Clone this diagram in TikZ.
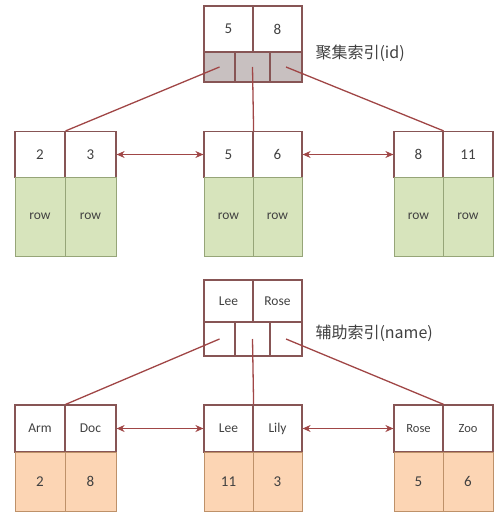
\documentclass[tikz,border=0pt]{standalone}
\usepackage{fontspec}
\setmainfont{Carlito}
\newfontfamily\cjk{Noto Sans CJK SC}
\usetikzlibrary{arrows.meta}
\definecolor{frame}{RGB}{135,85,85}
\definecolor{link}{RGB}{160,70,70}
\definecolor{txt}{RGB}{65,65,65}
\definecolor{ptrfill}{RGB}{200,192,192}
\definecolor{greenfill}{RGB}{215,228,188}
\definecolor{greenline}{RGB}{150,165,120}
\definecolor{orangefill}{RGB}{252,213,180}
\definecolor{orangeline}{RGB}{190,145,105}
\tikzset{
  keycell/.style={draw=frame, line width=1.2pt, fill=white, inner sep=0pt, minimum width=49pt, minimum height=46pt, text=txt, font=\fontsize{15}{15}\selectfont},
  ptrcell/.style={draw=frame, line width=1.2pt, inner sep=0pt, minimum height=30pt, text=txt},
  rowcell/.style={draw=greenline, line width=1pt, fill=greenfill, inner sep=0pt, minimum width=50pt, minimum height=79pt, text=txt, font=\fontsize{13.5}{13.5}\selectfont},
  valcell/.style={draw=orangeline, line width=1pt, fill=orangefill, inner sep=0pt, minimum width=50pt, minimum height=59pt, text=txt, font=\fontsize{15}{15}\selectfont},
  treeline/.style={draw=link, line width=1.3pt},
  sibling/.style={draw=link, line width=1.4pt, {Stealth[length=8pt,width=7pt]}-{Stealth[length=8pt,width=7pt]}},
  lbl/.style={anchor=west, text=txt, font=\cjk\fontsize{16}{16}\selectfont}
}
\begin{document}
\begin{tikzpicture}[x=1pt,y=-1pt]
\useasboundingbox (0,0) rectangle (494,513);
% ===== clustered index =====
\node[keycell, minimum width=49pt] (r1a) at (228.5,29) {5};
\node[keycell, minimum width=49pt] (r1b) at (277.5,29) {8};
\node[ptrcell, fill=ptrfill, minimum width=31pt] (p1a) at (219.5,67) {};
\node[ptrcell, fill=ptrfill, minimum width=35pt] (p1b) at (252.5,67) {};
\node[ptrcell, fill=ptrfill, minimum width=32pt] (p1c) at (286,67) {};
\node[lbl] (l1) at (312,53) {聚集索引(id)};
% leaves
\node[keycell, minimum width=50pt] (a1) at (40,154.5) {2};
\node[keycell, minimum width=51pt] (a2) at (90.5,154.5) {3};
\node[rowcell] (a1r) at (40,216.5) {row};
\node[rowcell, minimum width=51pt] (a2r) at (90.5,216.5) {row};
\node[keycell] (b1) at (228.5,154.5) {5};
\node[keycell] (b2) at (277.5,154.5) {6};
\node[rowcell, minimum width=49pt] (b1r) at (228.5,216.5) {row};
\node[rowcell, minimum width=49pt] (b2r) at (277.5,216.5) {row};
\node[keycell] (c1) at (418.5,154.5) {8};
\node[keycell, minimum width=50pt] (c2) at (468,154.5) {11};
\node[rowcell, minimum width=49pt] (c1r) at (418.5,216.5) {row};
\node[rowcell] (c2r) at (468,216.5) {row};
\draw[treeline] (p1a.center) -- (a1.north east);
\draw[treeline] (p1b.center) -- (b1.north east);
\draw[treeline] (p1c.center) -- (c1.north east);
\draw[sibling] (a2.east) -- (b1.west);
\draw[sibling] (b2.east) -- (c1.west);
% ===== secondary index =====
\node[keycell, minimum height=42pt, font=\fontsize{13.5}{13.5}\selectfont] (s1a) at (228.5,301) {Lee};
\node[keycell, minimum height=42pt, font=\fontsize{13.5}{13.5}\selectfont] (s1b) at (277.5,301) {Rose};
\node[ptrcell, fill=white, minimum width=31pt, minimum height=34pt] (q1a) at (219.5,339) {};
\node[ptrcell, fill=white, minimum width=35pt, minimum height=34pt] (q1b) at (252.5,339) {};
\node[ptrcell, fill=white, minimum width=32pt, minimum height=34pt] (q1c) at (286,339) {};
\node[lbl] (l2) at (312,333) {辅助索引(name)};
% leaves
\node[keycell, minimum width=50pt, minimum height=47pt, font=\fontsize{13.5}{13.5}\selectfont] (d1) at (40,428.5) {Arm};
\node[keycell, minimum width=51pt, minimum height=47pt, font=\fontsize{13.5}{13.5}\selectfont] (d2) at (90.5,428.5) {Doc};
\node[valcell] (d1v) at (40,481.5) {2};
\node[valcell, minimum width=51pt] (d2v) at (90.5,481.5) {8};
\node[keycell, minimum height=47pt, font=\fontsize{13.5}{13.5}\selectfont] (e1) at (228.5,428.5) {Lee};
\node[keycell, minimum height=47pt, font=\fontsize{13.5}{13.5}\selectfont] (e2) at (277.5,428.5) {Lily};
\node[valcell, minimum width=49pt] (e1v) at (228.5,481.5) {11};
\node[valcell, minimum width=49pt] (e2v) at (277.5,481.5) {3};
\node[keycell, minimum height=47pt, font=\fontsize{12.5}{12.5}\selectfont] (f1) at (418.5,428.5) {Rose};
\node[keycell, minimum width=50pt, minimum height=47pt, font=\fontsize{12.5}{12.5}\selectfont] (f2) at (468,428.5) {Zoo};
\node[valcell, minimum width=49pt] (f1v) at (418.5,481.5) {5};
\node[valcell] (f2v) at (468,481.5) {6};
\draw[treeline] (q1a.center) -- (d1.north east);
\draw[treeline] (q1b.center) -- (e1.north east);
\draw[treeline] (q1c.center) -- (f1.north east);
\draw[sibling] (d2.east) -- (e1.west);
\draw[sibling] (e2.east) -- (f1.west);
\end{tikzpicture}
\end{document}
